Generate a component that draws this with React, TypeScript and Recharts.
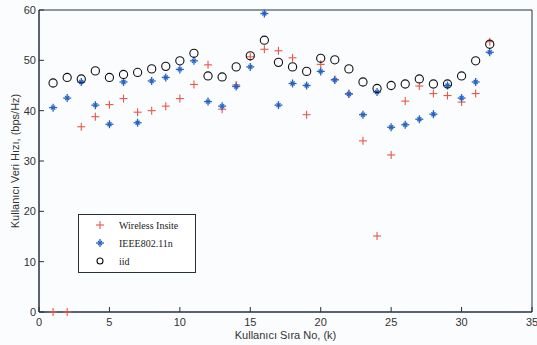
import React from "react";
import { ScatterChart, Scatter, XAxis, YAxis, ReferenceArea } from "recharts";

const users = [1,2,3,4,5,6,7,8,9,10,11,12,13,14,15,16,17,18,19,20,21,22,23,24,25,26,27,28,29,30,31,32];
const wirelessInsite = [0,0,36.8,38.8,41.2,42.4,39.7,40.0,40.9,42.4,45.2,49.1,40.3,45.1,50.7,52.2,51.9,50.5,39.2,49.2,46.2,43.4,34.0,15.1,31.2,41.9,44.9,43.4,43.0,41.7,43.4,53.7];
const ieee80211n = [40.6,42.5,45.7,41.1,37.3,45.7,37.6,45.9,46.6,48.2,49.9,41.8,40.9,44.8,48.7,59.3,41.1,45.4,45.0,47.8,46.1,43.3,39.2,43.7,36.7,37.2,38.3,39.3,45.0,42.5,45.7,51.6];
const iid = [45.5,46.6,46.3,47.9,46.6,47.2,47.6,48.3,48.8,49.9,51.4,46.9,46.7,48.7,50.9,54.0,49.6,48.7,47.8,50.4,50.1,48.3,45.7,44.4,45.0,45.3,46.3,45.3,45.3,46.9,49.9,53.2];
const xTicks = [0,5,10,15,20,25,30,35];
const yTicks = [0,10,20,30,40,50,60];
const seriesNames = ["Wireless Insite", "IEEE802.11n", "iid"];

const RED = "#e8574a";
const BLUE = "#2564c6";
const AXIS = "#26303c";

const toPts = (vals: number[]) => users.map((k, i) => ({ k, v: vals[i] }));

const PlusMark = (p: any) => (
  <g stroke={RED} strokeWidth={1.1}>
    <line x1={p.cx - 4} y1={p.cy} x2={p.cx + 4} y2={p.cy} />
    <line x1={p.cx} y1={p.cy - 4} x2={p.cx} y2={p.cy + 4} />
  </g>
);
const StarMark = (p: any) => (
  <g stroke={BLUE} strokeWidth={1.3}>
    <line x1={p.cx - 4} y1={p.cy} x2={p.cx + 4} y2={p.cy} />
    <line x1={p.cx} y1={p.cy - 4} x2={p.cx} y2={p.cy + 4} />
    <line x1={p.cx - 2} y1={p.cy - 2} x2={p.cx + 2} y2={p.cy + 2} />
    <line x1={p.cx - 2} y1={p.cy + 2} x2={p.cx + 2} y2={p.cy - 2} />
  </g>
);
const CircleMark = (p: any) => (
  <circle cx={p.cx} cy={p.cy} r={p.r ?? 4.1} fill="none" stroke="#111" strokeWidth={1.1} />
);

const XTick = (p: any) => (
  <g>
    <line x1={p.x} y1={p.y} x2={p.x} y2={p.y - 5} stroke={AXIS} strokeWidth={1} />
    <text x={p.x} y={p.y + 14} textAnchor="middle" fontSize={11} fill="#333" fontFamily="Liberation Sans, Arial, sans-serif">{p.payload.value}</text>
  </g>
);
const YTick = (p: any) => (
  <g>
    <line x1={p.x} y1={p.y} x2={p.x + 5} y2={p.y} stroke={AXIS} strokeWidth={1} />
    <text x={p.x - 3} y={p.y + 4} textAnchor="end" fontSize={11} fill="#333" fontFamily="Liberation Sans, Arial, sans-serif">{p.payload.value}</text>
  </g>
);

const LegendBox = () => {
  const marks = [PlusMark, StarMark, CircleMark];
  return (
    <svg width={118} height={59} style={{ position: "absolute", left: 78, top: 214, overflow: "visible" }}>
      <rect x={0.5} y={0.5} width={117} height={58} fill="#fff" stroke={AXIS} strokeWidth={1} />
      {seriesNames.map((n, i) => {
        const M = marks[i];
        const cy = 11 + i * 18;
        return (
          <g key={n}>
            <M cx={22} cy={cy} r={3} />
            <text x={41} y={cy + 3.5} fontSize={10} fill="#222" fontFamily="Liberation Serif, Times New Roman, serif">{n}</text>
          </g>
        );
      })}
    </svg>
  );
};

export default function App() {
  return (
    <div style={{ position: "absolute", left: 0, top: 0, width: 537, height: 345, background: "#fbfcfe" }}>
      <ScatterChart width={537} height={345} margin={{ top: 10, right: 5, bottom: 0, left: 0 }}>
        <XAxis
          type="number"
          dataKey="k"
          domain={[0, 35]}
          ticks={xTicks}
          interval={0}
          height={33}
          tickSize={0}
          tickMargin={0}
          tickLine={false}
          axisLine={{ stroke: AXIS }}
          tick={<XTick />}
          label={{ value: "Kullanıcı Sıra No, (k)", position: "center", dy: 7, fontSize: 11, fill: "#333", fontFamily: "Liberation Sans, Arial, sans-serif" }}
        />
        <YAxis
          type="number"
          dataKey="v"
          domain={[0, 60]}
          ticks={yTicks}
          interval={0}
          width={39}
          tickSize={0}
          tickMargin={0}
          tickLine={false}
          axisLine={{ stroke: AXIS }}
          tick={<YTick />}
          label={{ value: "Kullanıcı Veri Hızı, (bps/Hz)", angle: -90, position: "center", dx: -4, fontSize: 11, fill: "#333", fontFamily: "Liberation Sans, Arial, sans-serif" }}
        />
        <ReferenceArea x1={0} x2={35} y1={0} y2={60} fill="#ffffff" fillOpacity={0} stroke={AXIS} strokeWidth={1} ifOverflow="visible" />
        <Scatter name={seriesNames[0]} data={toPts(wirelessInsite)} shape={<PlusMark />} isAnimationActive={false} />
        <Scatter name={seriesNames[1]} data={toPts(ieee80211n)} shape={<StarMark />} isAnimationActive={false} />
        <Scatter name={seriesNames[2]} data={toPts(iid)} shape={<CircleMark />} isAnimationActive={false} />
      </ScatterChart>
      <LegendBox />
    </div>
  );
}
